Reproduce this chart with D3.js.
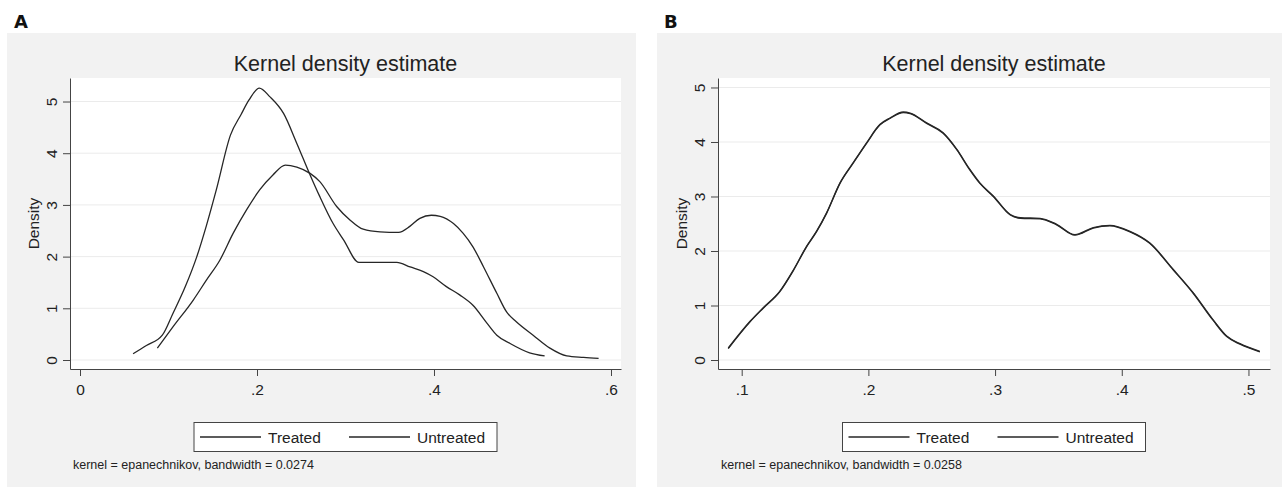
<!DOCTYPE html>
<html>
<head>
<meta charset="utf-8">
<script src="https://cdn.jsdelivr.net/npm/d3@7"></script>
<style>
    body { margin: 0; background: #fff; }
    text { font-family: "Liberation Sans", Arial, sans-serif; fill: #222; }
</style>
</head>
<body>
<div id="chart"></div>
<script>

// ---- data ----
const seriesNames = ["Treated", "Untreated"];

// panel A
const aTreatedX = [0.060, 0.075, 0.093, 0.105, 0.119, 0.132, 0.143, 0.154, 0.170, 0.182, 0.191, 0.2026, 0.2147, 0.230, 0.245, 0.260, 0.271, 0.286, 0.298, 0.315, 0.339, 0.358, 0.373, 0.388, 0.399, 0.414, 0.429, 0.444, 0.460, 0.471, 0.486, 0.508, 0.525];
const aTreatedY = [0.12, 0.28, 0.48, 0.90, 1.42, 2.00, 2.61, 3.29, 4.35, 4.75, 5.03, 5.26, 5.09, 4.77, 4.19, 3.58, 3.16, 2.64, 2.32, 1.89, 1.89, 1.89, 1.80, 1.71, 1.61, 1.42, 1.26, 1.06, 0.71, 0.48, 0.32, 0.14, 0.08];
const aUntreatedX = [0.0874, 0.105, 0.128, 0.143, 0.158, 0.173, 0.188, 0.203, 0.218, 0.232, 0.245, 0.260, 0.271, 0.290, 0.305, 0.320, 0.339, 0.360, 0.373, 0.384, 0.397, 0.407, 0.422, 0.433, 0.444, 0.456, 0.471, 0.482, 0.493, 0.512, 0.531, 0.550, 0.569, 0.586];
const aUntreatedY = [0.23, 0.64, 1.16, 1.55, 1.93, 2.45, 2.90, 3.29, 3.58, 3.77, 3.73, 3.61, 3.45, 2.97, 2.71, 2.53, 2.48, 2.47, 2.59, 2.74, 2.80, 2.78, 2.64, 2.45, 2.19, 1.80, 1.29, 0.93, 0.74, 0.48, 0.23, 0.08, 0.05, 0.03];

// panel B (the two curves nearly coincide)
const bTreatedX = [0.0894, 0.1066, 0.117, 0.130, 0.141, 0.1513, 0.159, 0.167, 0.1776, 0.188, 0.1987, 0.209, 0.217, 0.2276, 0.233, 0.246, 0.259, 0.2697, 0.280, 0.288, 0.2986, 0.312, 0.320, 0.3355, 0.3486, 0.363, 0.3775, 0.3907, 0.4065, 0.422, 0.4407, 0.4565, 0.472, 0.4828, 0.4933, 0.509];
const bTreatedY = [0.21, 0.70, 0.95, 1.25, 1.65, 2.08, 2.35, 2.69, 3.24, 3.61, 3.98, 4.31, 4.43, 4.54, 4.52, 4.34, 4.16, 3.86, 3.49, 3.24, 3.00, 2.66, 2.60, 2.59, 2.48, 2.29, 2.42, 2.46, 2.35, 2.14, 1.65, 1.22, 0.73, 0.43, 0.29, 0.15];
const bUntreatedX = [0.0894, 0.1066, 0.117, 0.130, 0.141, 0.1513, 0.159, 0.167, 0.1776, 0.188, 0.1987, 0.209, 0.217, 0.2276, 0.233, 0.246, 0.259, 0.2697, 0.280, 0.288, 0.2986, 0.312, 0.320, 0.3355, 0.3486, 0.363, 0.3775, 0.3907, 0.4065, 0.422, 0.4407, 0.4565, 0.472, 0.4828, 0.4933, 0.509];
const bUntreatedY = [0.22, 0.71, 0.96, 1.26, 1.66, 2.09, 2.36, 2.70, 3.25, 3.62, 3.99, 4.32, 4.44, 4.55, 4.53, 4.35, 4.17, 3.87, 3.50, 3.25, 3.01, 2.67, 2.61, 2.60, 2.49, 2.30, 2.43, 2.47, 2.36, 2.15, 1.66, 1.23, 0.74, 0.44, 0.30, 0.16];

const aXTicks = [0, 0.2, 0.4, 0.6];
const bXTicks = [0.1, 0.2, 0.3, 0.4, 0.5];
const yTicks = [0, 1, 2, 3, 4, 5];

const notes = ["kernel = epanechnikov, bandwidth = 0.0274", "kernel = epanechnikov, bandwidth = 0.0258"];
const titleText = "Kernel density estimate";
const yLabel = "Density";

// ---- drawing ----
const svg = d3.select("#chart").append("svg")
    .attr("width", 1282)
    .attr("height", 487);

const zip = (xs, ys) => xs.map((x, i) => ({x: x, y: ys[i]}));
const stataFmt = d => d === 0 ? "0" : String(+d.toFixed(2)).replace(/^0/, "");

function drawPanel(cfg) {
    // letter
    svg.append("text")
        .attr("x", cfg.bgLeft + 7)
        .attr("y", 28)
        .style("font-family", "'DejaVu Sans', sans-serif")
        .style("font-weight", "bold")
        .style("font-size", "18px")
        .style("fill", "#111")
        .text(cfg.letter);

    // graph region
    svg.append("rect")
        .attr("x", cfg.bgLeft).attr("y", 33)
        .attr("width", cfg.bgRight - cfg.bgLeft).attr("height", 487 - 33)
        .attr("fill", "#f2f2f2");

    // plot region
    svg.append("rect")
        .attr("x", cfg.left).attr("y", cfg.top)
        .attr("width", cfg.right - cfg.left).attr("height", cfg.bottom - cfg.top)
        .attr("fill", "#fff");

    let x = d3.scaleLinear().domain(cfg.xDomain).range([cfg.left, cfg.right]);
    let y = d3.scaleLinear().domain(cfg.yDomain).range([cfg.bottom, cfg.top]);

    // grid
    svg.append("g").selectAll("line")
        .data(yTicks)
        .join("line")
        .attr("x1", cfg.left + 1).attr("x2", cfg.right)
        .attr("y1", d => y(d)).attr("y2", d => y(d))
        .attr("stroke", "#ebebeb")
        .attr("stroke-width", 1);

    // title
    svg.append("text")
        .attr("x", (cfg.left + cfg.right) / 2)
        .attr("y", 71)
        .attr("text-anchor", "middle")
        .style("font-size", "21.5px")
        .text(titleText);

    // axes
    let xAxis = svg.append("g")
        .attr("transform", `translate(0,${cfg.bottom})`)
        .call(d3.axisBottom(x).tickValues(cfg.xTicks).tickFormat(stataFmt).tickSize(7).tickSizeOuter(0));
    xAxis.selectAll("text")
        .attr("y", 26).attr("dy", 0)
        .style("font-size", "15.5px");

    let yAxis = svg.append("g")
        .attr("transform", `translate(${cfg.left},0)`)
        .call(d3.axisLeft(y).tickValues(yTicks).tickFormat(stataFmt).tickSize(7).tickSizeOuter(0));
    yAxis.selectAll("text")
        .attr("transform", "rotate(-90)")
        .attr("x", 0).attr("y", -13).attr("dy", 0)
        .attr("text-anchor", "middle")
        .style("font-size", "15.5px");

    svg.selectAll(".domain, .tick line").attr("stroke", "#444");
    svg.selectAll(".tick text").style("fill", "#222").style("font-family", "'Liberation Sans', Arial, sans-serif");

    svg.append("text")
        .attr("transform", `translate(${cfg.left - 31},${(cfg.top + cfg.bottom) / 2}) rotate(-90)`)
        .attr("text-anchor", "middle")
        .style("font-size", "15.5px")
        .text(yLabel);

    // curves
    let line = d3.line()
        .x(d => x(d.x))
        .y(d => y(d.y))
        .curve(d3.curveMonotoneX);

    svg.append("g").selectAll("path")
        .data(cfg.series)
        .join("path")
        .attr("d", d => line(d))
        .attr("fill", "none")
        .attr("stroke", "#262626")
        .attr("stroke-width", 1.3);

    // legend
    let cx = (cfg.left + cfg.right) / 2;
    let boxW = 303, boxLeft = cx - boxW / 2;
    let legend = svg.append("g");
    legend.append("rect")
        .attr("x", boxLeft).attr("y", 422.5)
        .attr("width", boxW).attr("height", 29)
        .attr("fill", "#fff")
        .attr("stroke", "#444");

    let item = legend.selectAll(".item")
        .data(seriesNames)
        .join("g")
        .attr("class", "item")
        .attr("transform", (d, i) => `translate(${boxLeft + 6 + i * 149},437)`);
    item.append("line")
        .attr("x1", 0).attr("x2", 61)
        .attr("stroke", "#262626").attr("stroke-width", 1.3);
    item.append("text")
        .attr("x", 68).attr("y", 6)
        .style("font-size", "15.5px")
        .text(d => d);

    // note
    svg.append("text")
        .attr("x", cfg.left + 3)
        .attr("y", 469)
        .style("font-size", "12.5px")
        .text(cfg.note);
}

drawPanel({
    letter: "A",
    bgLeft: 7, bgRight: 636,
    left: 70, right: 621, top: 78, bottom: 369,
    xDomain: [-0.0113, 0.6113],
    yDomain: [-0.174, 5.455],
    xTicks: aXTicks,
    series: [zip(aTreatedX, aTreatedY), zip(aUntreatedX, aUntreatedY)],
    note: notes[0]
});

drawPanel({
    letter: "B",
    bgLeft: 657, bgRight: 1282,
    left: 718, right: 1270, top: 78, bottom: 369,
    xDomain: [0.0813, 0.517],
    yDomain: [-0.165, 5.174],
    xTicks: bXTicks,
    series: [zip(bTreatedX, bTreatedY), zip(bUntreatedX, bUntreatedY)],
    note: notes[1]
});

</script>
</body>
</html>
